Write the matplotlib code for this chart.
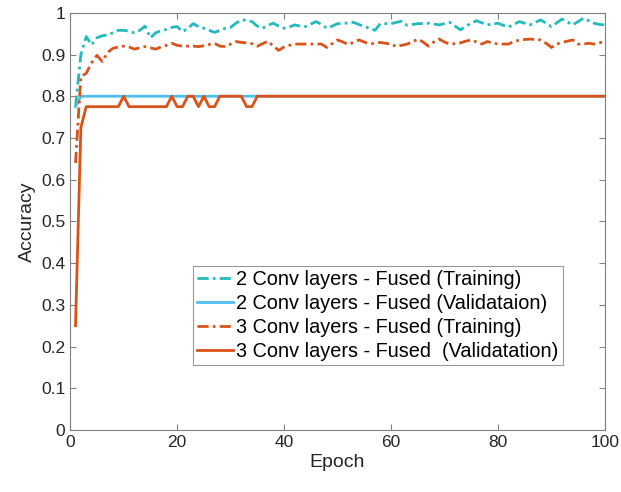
import numpy as np
import matplotlib
matplotlib.use('Agg')
import matplotlib.pyplot as plt

plt.rcParams['font.family'] = ['Liberation Sans', 'DejaVu Sans']

# %% data
epochs = np.arange(1, 101)

train_2conv = [
    0.775, 0.900, 0.943, 0.923, 0.940, 0.945, 0.947, 0.952, 0.958, 0.958,
    0.956, 0.952, 0.958, 0.968, 0.940, 0.952, 0.957, 0.960, 0.965, 0.967,
    0.955, 0.962, 0.974, 0.967, 0.963, 0.958, 0.953, 0.958, 0.963, 0.965,
    0.975, 0.983, 0.982, 0.979, 0.968, 0.963, 0.970, 0.975, 0.968, 0.963,
    0.966, 0.971, 0.968, 0.967, 0.973, 0.979, 0.972, 0.963, 0.968, 0.974,
    0.974, 0.976, 0.977, 0.972, 0.967, 0.963, 0.958, 0.974, 0.974, 0.974,
    0.977, 0.980, 0.970, 0.972, 0.974, 0.974, 0.975, 0.973, 0.971, 0.974,
    0.977, 0.968, 0.959, 0.968, 0.975, 0.981, 0.976, 0.971, 0.973, 0.975,
    0.970, 0.966, 0.972, 0.979, 0.975, 0.971, 0.977, 0.983, 0.975, 0.967,
    0.976, 0.985, 0.978, 0.971, 0.979, 0.987, 0.981, 0.975, 0.972, 0.971,
]

val_2conv = [0.775] + [0.8] * 99

train_3conv = [
    0.640, 0.847, 0.855, 0.880, 0.898, 0.883, 0.905, 0.915, 0.918, 0.920,
    0.918, 0.913, 0.916, 0.919, 0.916, 0.913, 0.918, 0.922, 0.927, 0.922,
    0.920, 0.920, 0.920, 0.919, 0.921, 0.924, 0.927, 0.920, 0.919, 0.925,
    0.931, 0.929, 0.928, 0.926, 0.920, 0.926, 0.932, 0.920, 0.910, 0.918,
    0.922, 0.925, 0.925, 0.925, 0.925, 0.925, 0.925, 0.917, 0.926, 0.935,
    0.930, 0.924, 0.929, 0.935, 0.930, 0.925, 0.927, 0.929, 0.927, 0.925,
    0.919, 0.922, 0.925, 0.930, 0.937, 0.930, 0.920, 0.930, 0.937, 0.930,
    0.925, 0.926, 0.928, 0.932, 0.935, 0.930, 0.925, 0.931, 0.928, 0.925,
    0.925, 0.925, 0.932, 0.934, 0.936, 0.937, 0.936, 0.935, 0.927, 0.917,
    0.925, 0.929, 0.932, 0.935, 0.925, 0.925, 0.927, 0.925, 0.928, 0.932,
]

val_3conv = ([0.25, 0.725] + [0.775] * 7 + [0.8] + [0.775] * 8 + [0.8]
             + [0.775] * 2 + [0.8] * 2 + [0.775] + [0.8] + [0.775] * 2
             + [0.8] * 5 + [0.775] * 2 + [0.8] * 66)

labels = ['2 Conv layers - Fused (Training)',
          '2 Conv layers - Fused (Validataion)',
          '3 Conv layers - Fused (Training)',
          '3 Conv layers - Fused  (Validatation)']

# %% plot
fig = plt.figure(figsize=(6.21, 4.92), dpi=100)
ax = fig.add_axes([0.113, 0.126, 0.861, 0.848])

dashdot = (0, (4, 1.5, 1, 1.5))
ax.plot(epochs, train_2conv, color='#22BBBB', lw=2, linestyle=dashdot, label=labels[0])
ax.plot(epochs, val_2conv, color='#4DBEEE', lw=2, label=labels[1])
ax.plot(epochs, train_3conv, color='#D95319', lw=2, linestyle=dashdot, label=labels[2])
ax.plot(epochs, val_3conv, color='#D95319', lw=2, label=labels[3])

ax.set_xlim(0, 100)
ax.set_ylim(0, 1)
ax.set_xticks(np.arange(0, 101, 20))
ax.set_yticks(np.arange(0, 1.01, 0.1))
ax.set_yticklabels(['0', '0.1', '0.2', '0.3', '0.4', '0.5', '0.6', '0.7', '0.8', '0.9', '1'])
ax.tick_params(direction='in', top=True, right=True, labelsize=12.5,
               colors='#808080', labelcolor='#262626', length=4)
for s in ax.spines.values():
    s.set_color('#808080')

ax.set_xlabel('Epoch', fontsize=14, color='#262626', labelpad=3)
ax.set_ylabel('Accuracy', fontsize=14, color='#262626')

leg = ax.legend(loc='lower right', bbox_to_anchor=(0.921, 0.156), fontsize=14.3,
                frameon=True, fancybox=False, edgecolor='#808080',
                handlelength=1.85, handletextpad=0.15, borderpad=0.2,
                labelspacing=0.25, borderaxespad=0)
leg.get_frame().set_linewidth(0.8)

fig.savefig('out.png', dpi=100)
